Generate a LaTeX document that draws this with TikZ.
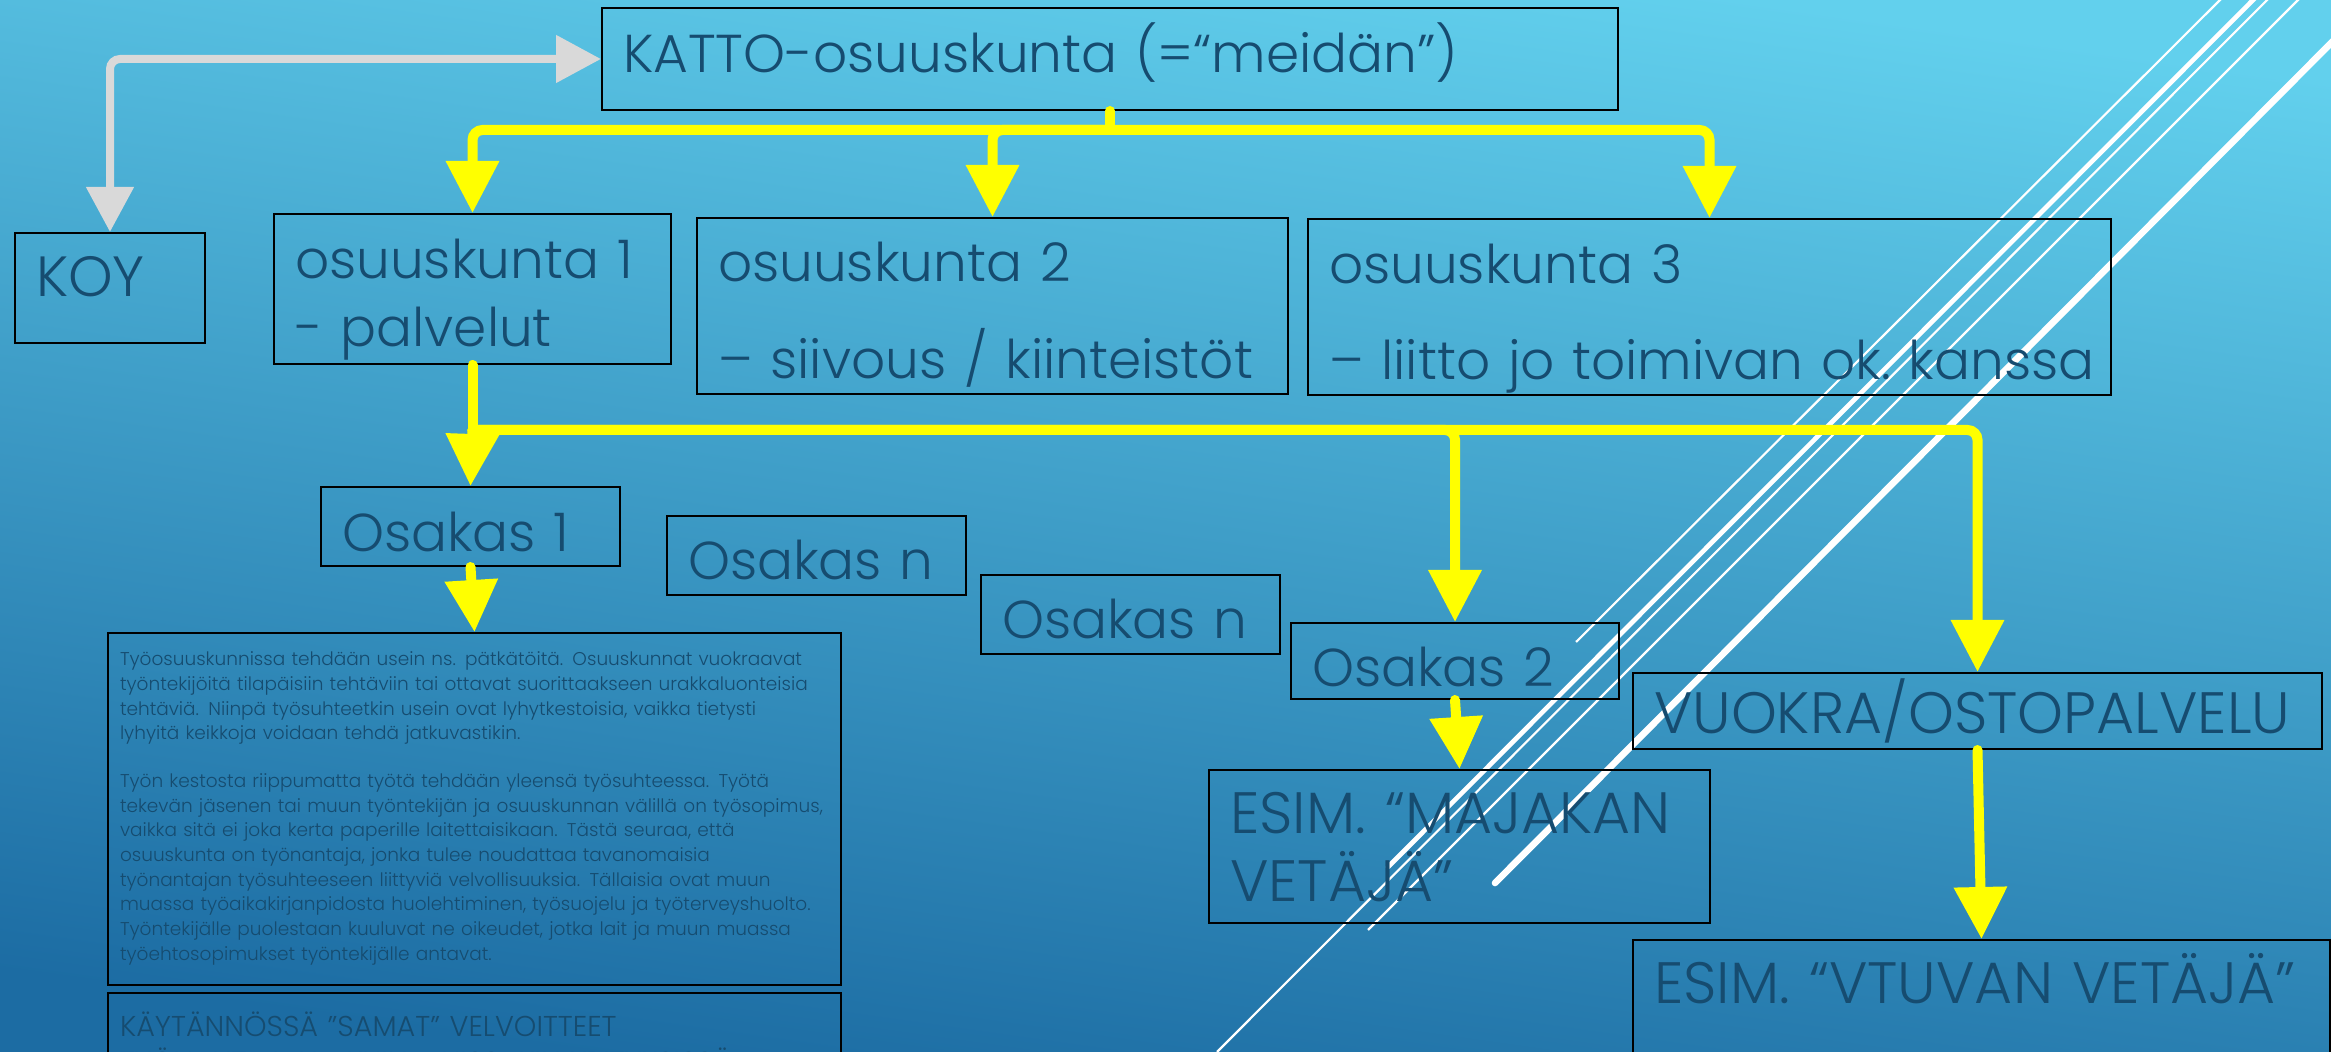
\documentclass[tikz,border=0pt]{standalone}
\usepackage{fontspec}
\setmainfont{Poppins Light}
\usetikzlibrary{arrows.meta}
\definecolor{bgtop}{RGB}{98,208,237}
\definecolor{bgbot}{RGB}{28,108,163}
\definecolor{ink}{RGB}{22,76,112}
\definecolor{ylw}{RGB}{255,255,0}
\definecolor{gry}{RGB}{217,217,217}
\hyphenpenalty=10000
\exhyphenpenalty=10000
\begin{document}
\begin{tikzpicture}
  [x=0.3pt,y=-0.3pt,
  laatikko/.style={draw=black,line width=0.6pt,text=ink,align=left,
    anchor=north west,inner xsep=6.3pt,inner ysep=0pt,
    font=\fontsize{16}{20.4}\selectfont},
  isot/.style={font=\fontsize{17.5}{20.4}\selectfont},
  keltainen/.style={ylw,line width=3pt,line cap=round,rounded corners=3pt,
    -{Triangle[width=15.3pt,length=15.6pt]}},
  harmaa/.style={gry,line width=2.4pt,rounded corners=3pt,
    {Triangle[width=13.8pt,length=13.5pt]}-{Triangle[width=13.8pt,length=13.5pt]}},
  viiva/.style={white,line width=0.65pt}]
  \useasboundingbox (0,0) rectangle (2331,1052);
  \shade[top color=bgtop,bottom color=bgbot,shading angle=-8] (0,0) rectangle (2331,1052);

  \draw[viiva] (2225,-5) -- (1576,642);
  \draw[viiva,line width=1.4pt,line cap=round] (2258,-5) -- (1388,867);
  \draw[viiva] (2272,-5) -- (1217,1052);
  \draw[viiva] (2303,-5) -- (1368,930);
  \draw[viiva,line width=2pt,line cap=round] (2350,24) -- (1495,883);

  \node[laatikko,text width=292.2pt,text height=19.5pt,text depth=11.1pt] (katto) at (601,7)
    {KATTO-osuuskunta~(=“meidän”)};
  \node[laatikko,font=\fontsize{17}{20.4}\selectfont,text width=44.4pt,text height=19.2pt,
    text depth=13.8pt] (koy) at (14,232) {KOY};
  \node[laatikko,text width=106.5pt,text height=19.5pt,text depth=25.5pt] (os1) at (273,213)
    {osuuskunta~1\\-~palvelut};
  \node[laatikko,text width=164.7pt,text height=19.2pt,text depth=33.6pt] (os2) at (696,217)
    {osuuskunta~2\\[8.7pt]–~siivous~/~kiinteistöt};
  \node[laatikko,text width=228.3pt,text height=19.5pt,text depth=33.3pt] (os3) at (1307,218)
    {osuuskunta~3\\[8.4pt]–~liitto~jo~toimivan~ok.~kanssa};
  \node[laatikko,text width=77.1pt,text height=19.5pt,text depth=4.2pt] (osa1) at (320,486) {Osakas~1};
  \node[laatikko,text width=77.1pt,text height=19.2pt,text depth=4.5pt] (osan1) at (666,515) {Osakas~n};
  \node[laatikko,text width=77.1pt,text height=19.2pt,text depth=4.5pt] (osan2) at (980,574) {Osakas~n};
  \node[laatikko,text width=85.8pt,text height=18.9pt,text depth=3.9pt] (osa2) at (1290,622) {Osakas~2};
  \node[laatikko,isot,text width=194.1pt,text height=18.3pt,text depth=4.5pt] (vuokra) at (1632,672)
    {VUOKRA/OSTOPALVELU};
  \node[laatikko,isot,text width=137.7pt,text height=18.9pt,text depth=27pt] (maj) at (1208,769)
    {ESIM.~“MAJAKAN\\VETÄJÄ”};
  \node[laatikko,isot,text width=196.5pt,text height=18.9pt,text depth=17.4pt] (vtu) at (1632,939)
    {ESIM.~“VTUVAN~VETÄJÄ”};
  \node[laatikko,inner xsep=3.6pt,text width=212.7pt,text height=9.9pt,text depth=95.7pt,
    font=\fontsize{5.55}{7.4}\selectfont] (teksti) at (107,632)
    {\begin{tabular}[t]{@{}l@{}}
     Työosuuskunnissa tehdään usein ns. pätkätöitä. Osuuskunnat vuokraavat\\
     työntekijöitä tilapäisiin tehtäviin tai ottavat suorittaakseen urakkaluonteisia\\
     tehtäviä. Niinpä työsuhteetkin usein ovat lyhytkestoisia, vaikka tietysti\\
     lyhyitä keikkoja voidaan tehdä jatkuvastikin.\\[6.9pt]
     Työn kestosta riippumatta työtä tehdään yleensä työsuhteessa. Työtä\\
     tekevän jäsenen tai muun työntekijän ja osuuskunnan välillä on työsopimus,\\
     vaikka sitä ei joka kerta paperille laitettaisikaan. Tästä seuraa, että\\
     osuuskunta on työnantaja, jonka tulee noudattaa tavanomaisia\\
     työnantajan työsuhteeseen liittyviä velvollisuuksia. Tällaisia ovat muun\\
     muassa työaikakirjanpidosta huolehtiminen, työsuojelu ja työterveyshuolto.\\
     Työntekijälle puolestaan kuuluvat ne oikeudet, jotka lait ja muun muassa\\
     työehtosopimukset työntekijälle antavat.
     \end{tabular}};
  \node[laatikko,inner xsep=3.6pt,text width=212.7pt,text height=12.9pt,text depth=40pt,
    font=\fontsize{8.6}{10.8}\selectfont] (kaytanto) at (107,992)
    {\begin{tabular}[t]{@{}l@{}}
     KÄYTÄNNÖSSÄ "SAMAT” VELVOITTEET\\
     TYÖNANTAJANA KUIN MUISSAKIN YRITYKSISSÄ
     \end{tabular}};

  \draw[harmaa] (koy.north) |- (katto.west);

  \draw[keltainen,-] (katto.south) -- ++(0,19) coordinate (h1);
  \draw[keltainen] (h1) -| (os1.north);
  \draw[keltainen] (h1) -| (os2.north);
  \draw[keltainen] (h1) -| (os3.north);

  \draw[keltainen,-] (os1.south) -- ++(0,65) coordinate (h2);
  \draw[keltainen] (h2) -- (osa1.north);
  \draw[keltainen] (h2) -| (osa2.north);
  \draw[keltainen] (h2) -| (vuokra.north);

  \draw[keltainen] (osa1.south) -- (teksti.north);
  \draw[keltainen] (osa2.south) -- (maj.north);
  \draw[keltainen] (vuokra.south) -- (vtu.north);
\end{tikzpicture}
\end{document}
